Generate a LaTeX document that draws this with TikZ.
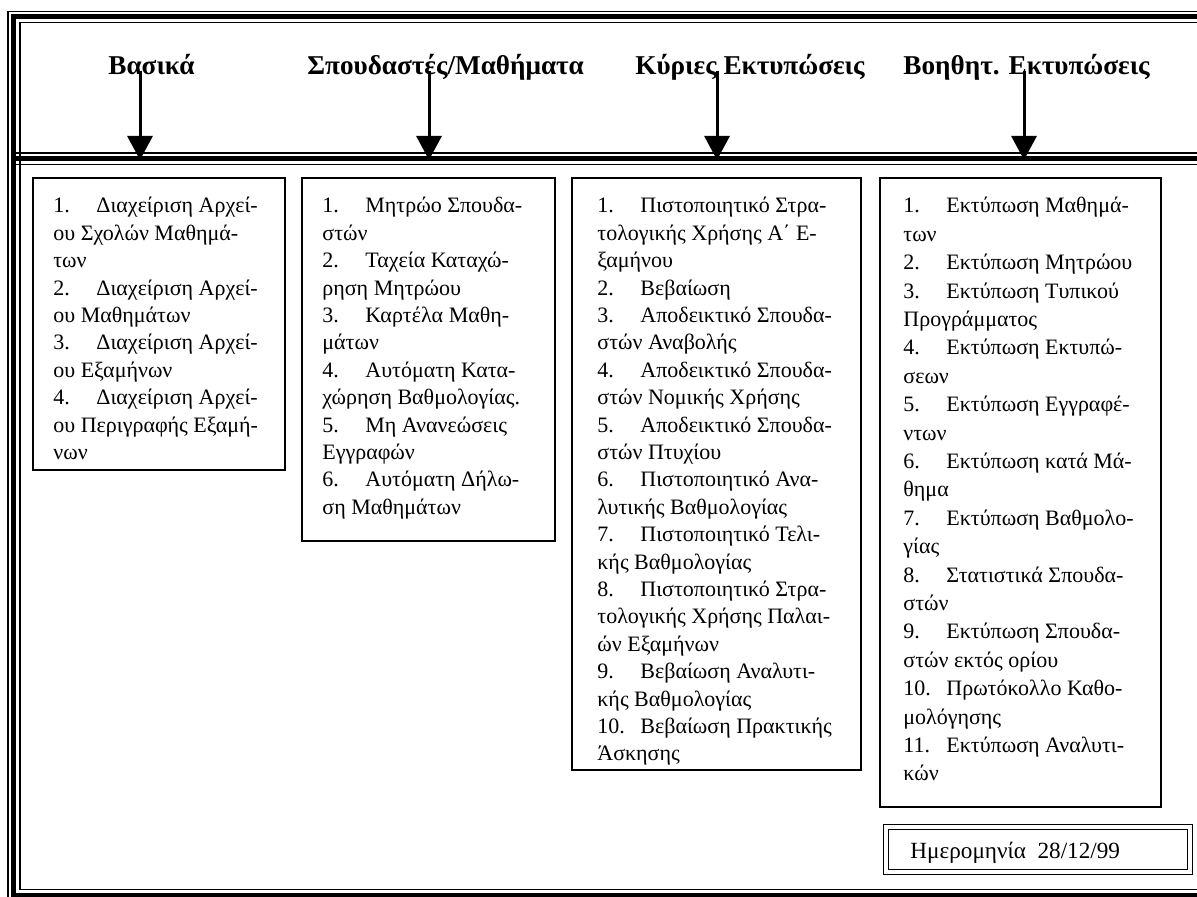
\documentclass[tikz,border=0pt]{standalone}
\usepackage{fontspec}
\setmainfont{Liberation Serif}
\usetikzlibrary{arrows.meta,fit}

% number column of a list item, followed by the item text
\newcommand{\itm}[1]{\makebox[21.5pt][l]{#1}}
\newcommand{\bodyfont}{\fontsize{11pt}{13.7pt}\selectfont}
\newcommand{\widefont}{\fontsize{11pt}{14.2pt}\selectfont}

\begin{document}
\begin{tikzpicture}[x=0.5pt,y=-0.5pt,
  thinrule/.style={line width=0.8pt},
  thickrule/.style={line width=2.5pt},
  listbox/.style={draw, line width=0.6pt, inner sep=0pt},
  datebox/.style={draw, line width=0.6pt, double, double distance=1.9pt, inner sep=0pt},
  listtext/.style={anchor=base west, inner sep=0pt, font=\bodyfont},
  header/.style={anchor=base west, inner sep=0pt, font=\fontsize{13.6pt}{16pt}\selectfont\bfseries},
  flow/.style={line width=1.5pt, -{Triangle[width=12.5pt,length=12pt]}},
]
\useasboundingbox (0,0) rectangle (1197,897);
\clip (0,0) rectangle (1197,897);

% page frame: thin - thick - thin
\draw[thinrule]  (8,11.5)   rectangle (1240,901);
\draw[thickrule] (13.5,16.5) rectangle (1235,895);
\draw[thinrule]  (20,22.5)  rectangle (1230,889.5);

% divider under the menu bar
\draw[thinrule]  (16,153.3) -- (1240,153.3);
\draw[thickrule] (16,158.3) -- (1240,158.3);
\draw[thinrule]  (16,164.5) -- (1240,164.5);

% menu headings
\node[header] (h1) at (108,75) {Βασικά};
\node[header] (h2) at (307,75) {Σπουδαστές/Μαθήματα};
\node[header] (h3) at (635,75) {Κύριες Εκτυπώσεις};
\node[header] (h4) at (903,75) {Βοηθητ. Εκτυπώσεις};

% arrows from the headings down to the divider
\coordinate (s1) at (140,71);  \coordinate (e1) at (140,160);
\coordinate (s2) at (429,71);  \coordinate (e2) at (429,160);
\coordinate (s3) at (717,71);  \coordinate (e3) at (717,160);
\coordinate (s4) at (1024,71); \coordinate (e4) at (1024,160);
\draw[flow] (s1) -- (e1);
\draw[flow] (s2) -- (e2);
\draw[flow] (s3) -- (e3);
\draw[flow] (s4) -- (e4);

% menu boxes
\node[listbox, fit={(33,178) (285,470)}] (b1) {};
\node[listbox, fit={(302,178) (555,541)}] (b2) {};
\node[listbox, fit={(572,178) (861,770)}] (b3) {};
\node[listbox, fit={(880,178) (1161,807)}] (b4) {};

\node[listtext] (t1) at (53,213) {\parbox[t]{120pt}{\raggedright
\itm{1.}Διαχείριση Αρχεί-\\
ου Σχολών Μαθημά-\\
των\\
\itm{2.}Διαχείριση Αρχεί-\\
ου Μαθημάτων\\
\itm{3.}Διαχείριση Αρχεί-\\
ου Εξαμήνων\\
\itm{4.}Διαχείριση Αρχεί-\\
ου Περιγραφής Εξαμή-\\
νων}};

\node[listtext] (t2) at (322,213) {\parbox[t]{122pt}{\raggedright
\itm{1.}Μητρώο Σπουδα-\\
στών\\
\itm{2.}Ταχεία Καταχώ-\\
ρηση Μητρώου\\
\itm{3.}Καρτέλα Μαθη-\\
μάτων\\
\itm{4.}Αυτόματη Κατα-\\
χώρηση Βαθμολογίας.\\
\itm{5.}Μη Ανανεώσεις\\
Εγγραφών\\
\itm{6.}Αυτόματη Δήλω-\\
ση Μαθημάτων}};

\node[listtext] (t3) at (597,213) {\parbox[t]{135pt}{\raggedright
\itm{1.}Πιστοποιητικό Στρα-\\
τολογικής Χρήσης Α΄ Ε-\\
ξαμήνου\\
\itm{2.}Βεβαίωση\\
\itm{3.}Αποδεικτικό Σπουδα-\\
στών Αναβολής\\
\itm{4.}Αποδεικτικό Σπουδα-\\
στών Νομικής Χρήσης\\
\itm{5.}Αποδεικτικό Σπουδα-\\
στών Πτυχίου\\
\itm{6.}Πιστοποιητικό Ανα-\\
λυτικής Βαθμολογίας\\
\itm{7.}Πιστοποιητικό Τελι-\\
κής Βαθμολογίας\\
\itm{8.}Πιστοποιητικό Στρα-\\
τολογικής Χρήσης Παλαι-\\
ών Εξαμήνων\\
\itm{9.}Βεβαίωση Αναλυτι-\\
κής Βαθμολογίας\\
\itm{10.}Βεβαίωση Πρακτικής\\
Άσκησης}};

\node[listtext, font=\widefont] (t4) at (903,213) {\parbox[t]{132pt}{\raggedright
\itm{1.}Εκτύπωση Μαθημά-\\
των\\
\itm{2.}Εκτύπωση Μητρώου\\
\itm{3.}Εκτύπωση Τυπικού\\
Προγράμματος\\
\itm{4.}Εκτύπωση Εκτυπώ-\\
σεων\\
\itm{5.}Εκτύπωση Εγγραφέ-\\
ντων\\
\itm{6.}Εκτύπωση κατά Μά-\\
θημα\\
\itm{7.}Εκτύπωση Βαθμολο-\\
γίας\\
\itm{8.}Στατιστικά Σπουδα-\\
στών\\
\itm{9.}Εκτύπωση Σπουδα-\\
στών εκτός ορίου\\
\itm{10.}Πρωτόκολλο Καθο-\\
μολόγησης\\
\itm{11.}Εκτύπωση Αναλυτι-\\
κών}};

% date stamp
\node[datebox, fit={(886,827) (1190,872)}] (db) {};
\node[listtext, font=\fontsize{11.6pt}{14pt}\selectfont] (date) at (910,858) {Ημερομηνία\ \ 28/12/99};
\end{tikzpicture}
\end{document}
